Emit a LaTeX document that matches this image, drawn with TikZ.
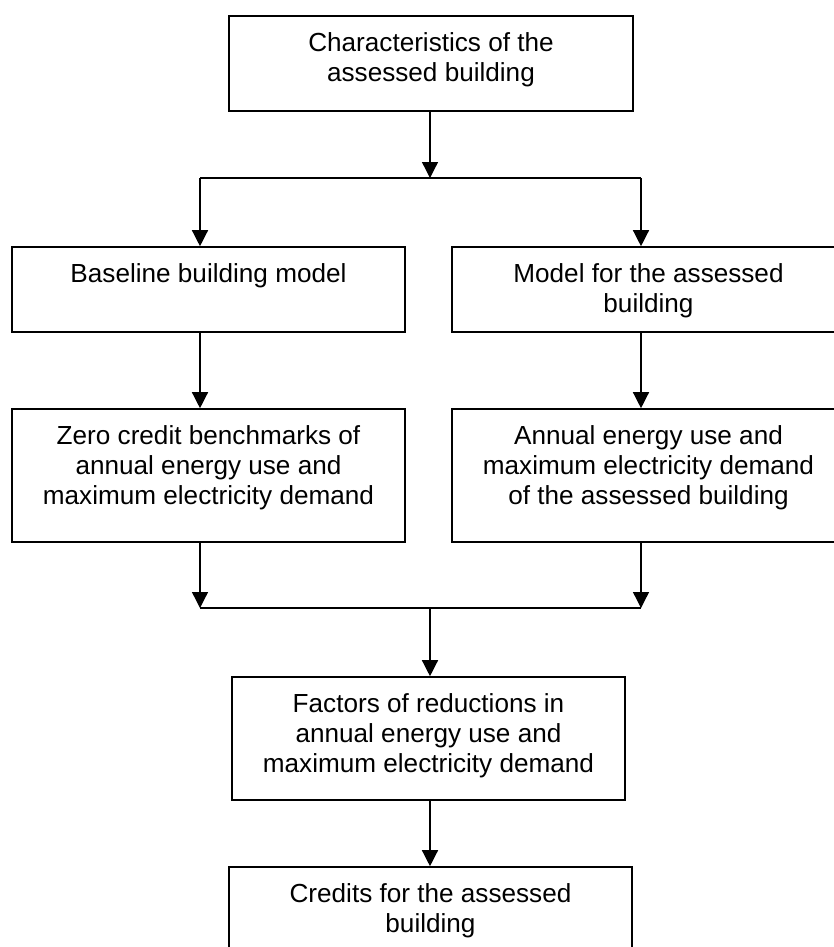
\documentclass[tikz,border=0pt]{standalone}
\usepackage{fontspec}
\setmainfont{Liberation Sans}
\usetikzlibrary{arrows.meta}

\newcommand{\boxtext}[3]{\parbox[c][#2][t]{#1}{\centering\rule{0pt}{26.3pt}#3}}

\tikzset{every picture/.style={line width=0.75pt}}
\tikzset{
  blok/.style={draw, line width=1.2pt, inner sep=0pt, font=\fontsize{19.6}{22.7}\selectfont},
  arr/.style={line width=1pt, -{Triangle[width=12pt,length=12pt]}}
}

\begin{document}
\begin{tikzpicture}[x=0.75pt,y=0.75pt,yscale=-1,xscale=1]
\clip (0,0) rectangle (834,947); %set diagram size 834 x 947

% Text Node
\node [blok] (char) at (431,63.5) {\boxtext{303pt}{71.25pt}{Characteristics of the\\assessed building}};
% Text Node
\node [blok] (base) at (208.5,289.5) {\boxtext{294.75pt}{63.75pt}{Baseline building model}};
% Text Node
\node [blok] (model) at (648.5,289.5) {\boxtext{294.75pt}{63.75pt}{Model for the assessed\\building}};
% Text Node
\node [blok] (zero) at (208.5,475.5) {\boxtext{294.75pt}{99.75pt}{Zero credit benchmarks of\\annual energy use and\\maximum electricity demand}};
% Text Node
\node [blok] (annual) at (648.5,475.5) {\boxtext{294.75pt}{99.75pt}{Annual energy use and\\maximum electricity demand\\of the assessed building}};
% Text Node
\node [blok] (factors) at (428.5,738.5) {\boxtext{294.75pt}{92.25pt}{Factors of reductions in\\annual energy use and\\maximum electricity demand}};
% Text Node
\node [blok] (credits) at (430.5,917) {\boxtext{302.25pt}{75pt}{Credits for the assessed\\building}};

% Junctions
\coordinate (split) at (430,178);
\coordinate (splitL) at (200,178);
\coordinate (splitR) at (641,178);
\coordinate (join) at (430,608);
\coordinate (joinL) at (200,608);
\coordinate (joinR) at (641,608);

% Connection
\draw [arr] (split |- char.south) -- (split);
\draw [line width=1pt] (splitL) -- (splitR);
\draw [arr] (splitL) -- (splitL |- base.north);
\draw [arr] (splitR) -- (splitR |- model.north);
% Connection
\draw [arr] (splitL |- base.south) -- (splitL |- zero.north);
\draw [arr] (splitR |- model.south) -- (splitR |- annual.north);
% Connection
\draw [arr] (joinL |- zero.south) -- (joinL);
\draw [arr] (joinR |- annual.south) -- (joinR);
\draw [line width=1pt] (joinL) -- (joinR);
\draw [arr] (join) -- (join |- factors.north);
% Connection
\draw [arr] (join |- factors.south) -- (join |- credits.north);

\end{tikzpicture}
\end{document}
